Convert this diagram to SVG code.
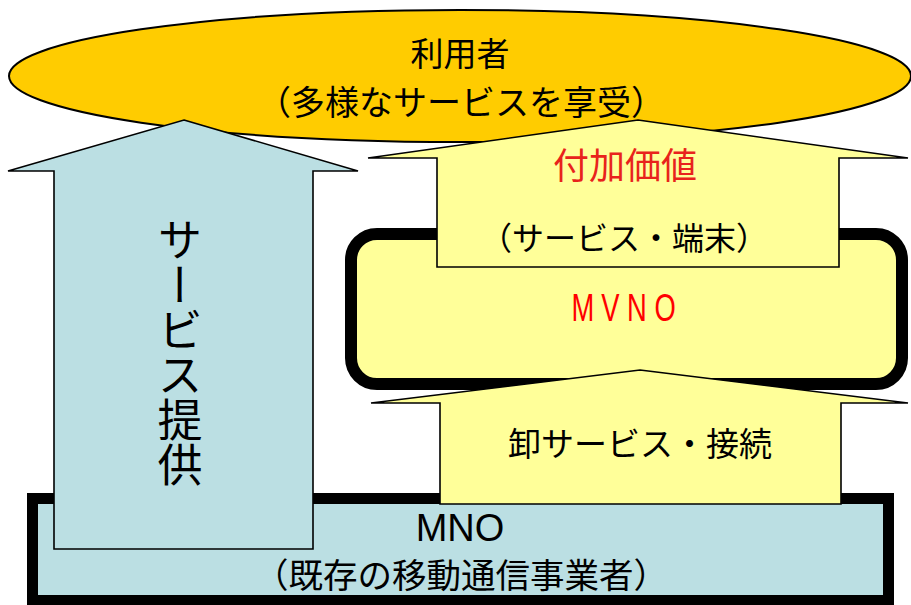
<svg xmlns="http://www.w3.org/2000/svg" width="911" height="605" viewBox="0 0 911 605">
<style>
  .jp { font-family: "Noto Sans CJK JP", "Noto Sans", sans-serif; fill: #000; }
  .lat { font-family: "Liberation Sans", "Noto Sans CJK JP", sans-serif; fill: #000; }
  .mid { text-anchor: middle; }
  .red { fill: #e8231c; }
  .blue { fill: #bbdfe3; }
  .ylw { fill: #ffff99; }
  .thin { stroke: #000; stroke-width: 1.6; stroke-linejoin: miter; }
</style>
<rect width="911" height="605" fill="#ffffff"/>

<g id="mno">
  <rect x="32.5" y="498.5" width="856" height="102" class="blue" stroke="#000" stroke-width="11"/>
  <text class="lat mid" x="460" y="541" font-size="38">MNO</text>
  <text class="jp mid" x="461" y="588" font-size="34.5">（既存の移動通信事業者）</text>
</g>

<g id="mvno">
  <rect x="351" y="234" width="551" height="150" rx="26" ry="26" class="ylw" stroke="#000" stroke-width="12"/>
  <g transform="translate(624,0) scale(0.72,1)">
    <text class="lat mid" x="-57 -19 18 57" y="321" font-size="38" style="fill:#ff0000">MVNO</text>
  </g>
</g>

<g id="user">
  <ellipse cx="460" cy="76" rx="451" ry="66" fill="#ffcc00" stroke="#000" stroke-width="2"/>
  <text class="jp mid" x="460" y="66" font-size="33">利用者</text>
  <text class="jp mid" x="461" y="115" font-size="34">（多様なサービスを享受）</text>
</g>

<g id="connectors">
  <g id="service-provision">
    <polygon class="blue thin" points="184,120 358,171 313,171 313,549 54,549 54,171 8,171"/>
    <text class="jp" x="180" y="217" font-size="45" writing-mode="vertical-rl" style="writing-mode:vertical-rl">サービス提供</text>
  </g>
  <g id="added-value">
    <polygon class="ylw thin" points="638,120 908,158 839,158 839,267 437,267 437,158 368,158"/>
    <text class="jp mid red" x="625" y="179" font-size="36">付加価値</text>
    <text class="jp mid" x="624" y="250" font-size="32">（サービス・端末）</text>
  </g>
  <g id="wholesale">
    <polygon class="ylw thin" points="640,370 908,403 841,403 841,504 440,504 440,403 371,403"/>
    <text class="jp mid" x="640" y="456" font-size="33">卸サービス・接続</text>
  </g>
</g>
</svg>
